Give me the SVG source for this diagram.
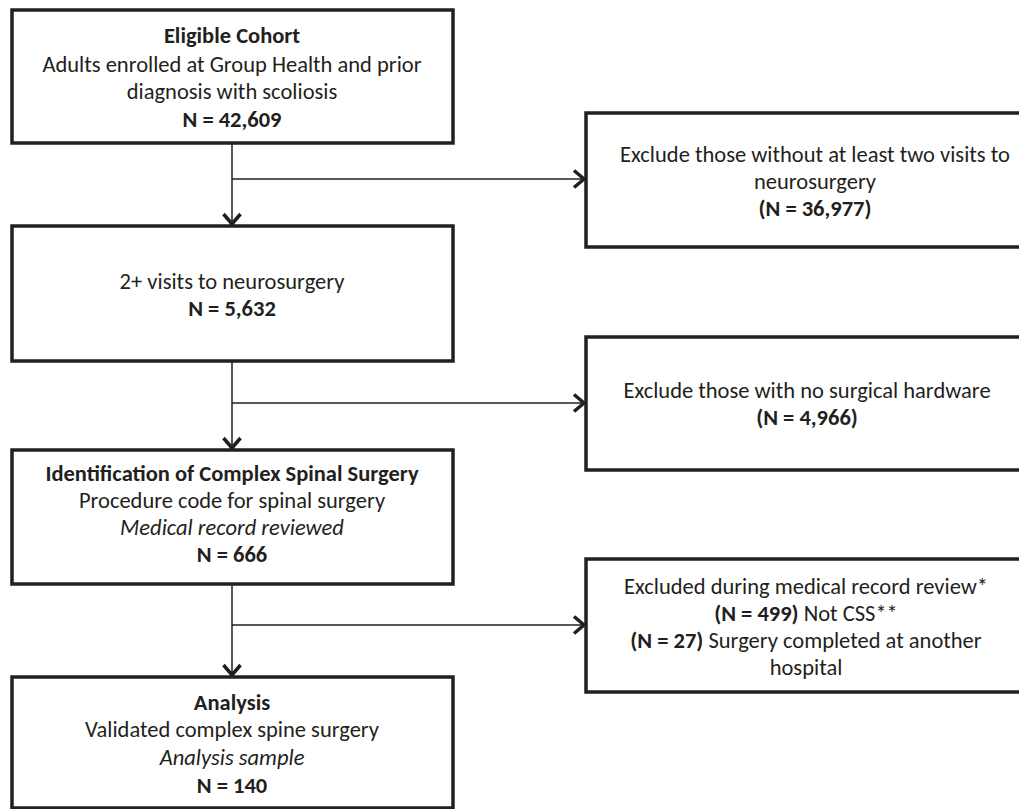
<svg xmlns="http://www.w3.org/2000/svg" width="1019" height="809" viewBox="0 0 1019 809">
<style>
.box{fill:#fff;stroke:#231f20;stroke-width:3.5}
.t{font-family:Carlito,Calibri,Lato,"Liberation Sans",sans-serif;font-size:22.5px;fill:#231f20;text-anchor:middle}
.b{font-weight:bold}
.i{font-style:italic}
.c{fill:none;stroke:#231f20;stroke-width:1.5}
</style>
<defs>
<marker id="ah" markerUnits="userSpaceOnUse" markerWidth="24" markerHeight="24" viewBox="0 0 24 24" refX="22" refY="12" orient="auto">
<path d="M10,3.5 L20,12 L10,20.5" fill="none" stroke="#231f20" stroke-width="3.5"/>
</marker>
</defs>
<rect width="1019" height="809" fill="#fff"/>
<g id="connectors">
<path class="c" d="M232,143 V226" marker-end="url(#ah)"/>
<path class="c" d="M232,179 H586" marker-end="url(#ah)"/>
<path class="c" d="M232,361 V450" marker-end="url(#ah)"/>
<path class="c" d="M232,403 H586" marker-end="url(#ah)"/>
<path class="c" d="M232,584 V677" marker-end="url(#ah)"/>
<path class="c" d="M232,625 H586" marker-end="url(#ah)"/>
</g>
<g id="eligible">
<rect class="box" x="12" y="10" width="441" height="133"/>
<text class="t b" x="232" y="43">Eligible Cohort</text>
<text class="t" x="232" y="72">Adults enrolled at Group Health and prior</text>
<text class="t" x="232" y="99">diagnosis with scoliosis</text>
<text class="t b" x="232" y="127">N = 42,609</text>
</g>
<g id="exclude1">
<rect class="box" x="586" y="113" width="460" height="134"/>
<text class="t" x="815" y="162">Exclude those without at least two visits to</text>
<text class="t" x="815" y="189">neurosurgery</text>
<text class="t b" x="815" y="216">(N = 36,977)</text>
</g>
<g id="visits">
<rect class="box" x="12" y="226" width="441" height="135"/>
<text class="t" x="232" y="289">2+ visits to neurosurgery</text>
<text class="t b" x="232" y="316">N = 5,632</text>
</g>
<g id="exclude2">
<rect class="box" x="586" y="337" width="460" height="133"/>
<text class="t" x="807" y="398">Exclude those with no surgical hardware</text>
<text class="t b" x="807" y="425">(N = 4,966)</text>
</g>
<g id="identification">
<rect class="box" x="12" y="450" width="441" height="134"/>
<text class="t b" x="232" y="481">Identification of Complex Spinal Surgery</text>
<text class="t" x="232" y="508">Procedure code for spinal surgery</text>
<text class="t i" x="232" y="535">Medical record reviewed</text>
<text class="t b" x="232" y="562">N = 666</text>
</g>
<g id="exclude3">
<rect class="box" x="586" y="559" width="460" height="133"/>
<text class="t" x="806" y="594">Excluded during medical record review*</text>
<text class="t" x="806" y="621"><tspan class="b">(N = 499)</tspan> Not CSS**</text>
<text class="t" x="806" y="648"><tspan class="b">(N = 27)</tspan> Surgery completed at another</text>
<text class="t" x="806" y="675">hospital</text>
</g>
<g id="analysis">
<rect class="box" x="12" y="677" width="441" height="131"/>
<text class="t b" x="232" y="710">Analysis</text>
<text class="t" x="232" y="737">Validated complex spine surgery</text>
<text class="t i" x="232" y="765">Analysis sample</text>
<text class="t b" x="232" y="793">N = 140</text>
</g>
</svg>
